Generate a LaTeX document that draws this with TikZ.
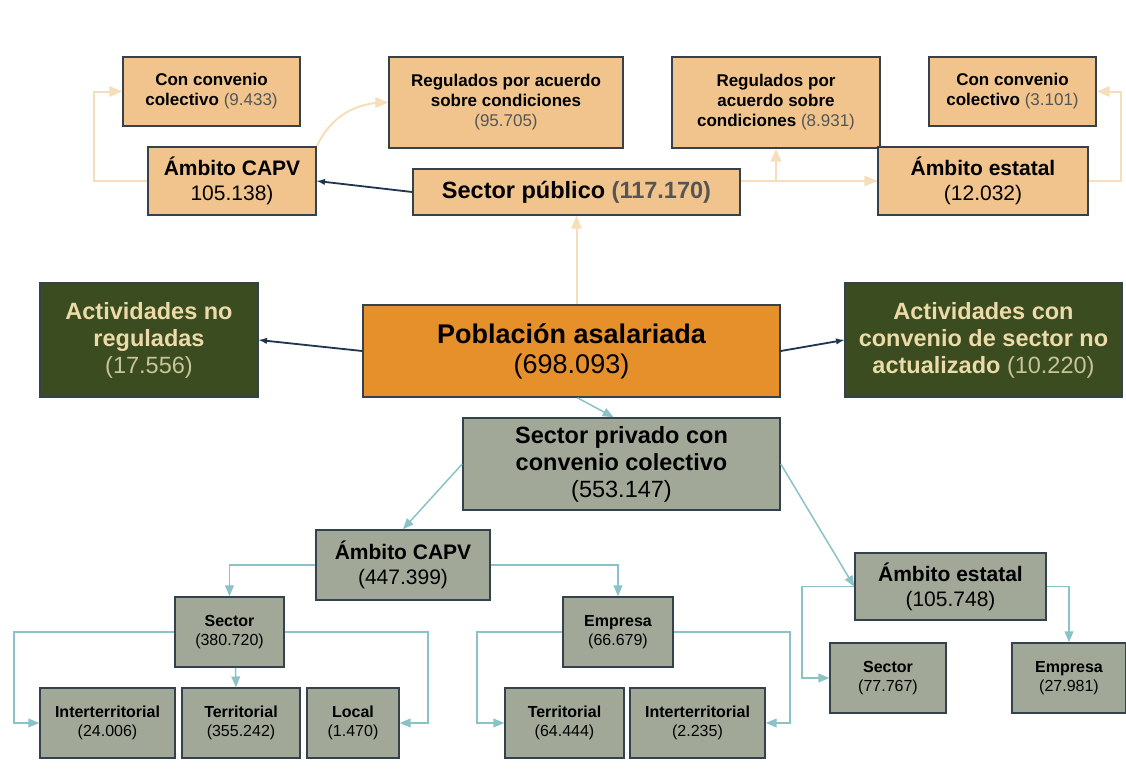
\documentclass[tikz,border=0pt]{standalone}
\usepackage{fontspec}
\setmainfont{Liberation Sans}
\usetikzlibrary{arrows}

\definecolor{boxtan}{RGB}{240,196,140}
\definecolor{boxorange}{RGB}{230,144,44}
\definecolor{boxgreen}{RGB}{58,76,32}
\definecolor{boxgray}{RGB}{161,168,151}
\definecolor{boxline}{RGB}{52,66,78}
\definecolor{greentext}{RGB}{236,218,168}
\definecolor{greennum}{RGB}{200,196,150}
\definecolor{numgray}{RGB}{85,85,85}
\definecolor{linktan}{RGB}{246,222,186}
\definecolor{linkteal}{RGB}{138,194,200}
\definecolor{linknavy}{RGB}{32,52,78}

\begin{document}
\begin{tikzpicture}[x=1pt, y=-1pt,
  box/.style={draw=boxline, line width=1.6pt, inner sep=0pt, align=center},
  pubbox/.style={box, fill=boxtan},
  privbox/.style={box, fill=boxgray},
  outbox/.style={box, fill=boxgreen, text=greentext},
  fsmall/.style={font=\fontsize{17}{20}\selectfont\bfseries},
  fbottom/.style={font=\fontsize{16}{19.5}\selectfont\bfseries},
  fmid/.style={font=\fontsize{21}{25}\selectfont\bfseries},
  fbig/.style={font=\fontsize{23.5}{27}\selectfont\bfseries},
  fhuge/.style={font=\fontsize{27}{30}\selectfont\bfseries},
  publink/.style={draw=linktan, line width=2pt, -triangle 45},
  privlink/.style={draw=linkteal, line width=1.5pt, -triangle 45},
  mainlink/.style={draw=linknavy, line width=1.8pt, -latex}]

\fill[white] (0,0) rectangle (1126,771);
\useasboundingbox (0,0) rectangle (1126,771);

% sector publico
\node[pubbox, fsmall, minimum width=177pt, minimum height=69pt] (conv1) at (211.5,91.5)
  {Con convenio\\colectivo {\mdseries\color{numgray}(9.433)}};
\node[pubbox, fsmall, minimum width=234pt, minimum height=91pt] (reg1) at (506,102.5)
  {Regulados por acuerdo\\sobre condiciones\\{\mdseries\color{numgray}(95.705)}};
\node[pubbox, fsmall, minimum width=208pt, minimum height=91pt] (reg2) at (776,102.5)
  {Regulados por\\acuerdo sobre\\condiciones {\mdseries\color{numgray}(8.931)}};
\node[pubbox, fsmall, minimum width=167pt, minimum height=69pt] (conv2) at (1012.5,91.5)
  {Con convenio\\colectivo {\mdseries\color{numgray}(3.101)}};
\node[pubbox, fmid, minimum width=168pt, minimum height=68pt] (capvpub) at (232,181)
  {Ámbito CAPV\\{\mdseries 105.138)}};
\node[pubbox, fbig, minimum width=327pt, minimum height=46pt] (pub) at (576.5,192)
  {Sector público {\color{numgray}(117.170)}};
\node[pubbox, fmid, minimum width=210pt, minimum height=68pt] (estpub) at (983,181)
  {Ámbito estatal\\{\mdseries (12.032)}};

% poblacion y actividades
\node[outbox, fbig, minimum width=218pt, minimum height=114pt] (noreg) at (149,340)
  {Actividades no\\reguladas\\{\mdseries\color{greennum}(17.556)}};
\node[box, fill=boxorange, fhuge, minimum width=417pt, minimum height=92pt] (pob) at (571.5,351)
  {Población asalariada\\{\mdseries (698.093)}};
\node[outbox, fbig, minimum width=277pt, minimum height=114pt] (noact) at (983.5,340)
  {Actividades con\\convenio de sector no\\actualizado {\mdseries\color{greennum}(10.220)}};

% sector privado
\node[privbox, fbig, minimum width=317pt, minimum height=92pt] (priv) at (621.5,464)
  {Sector privado con\\convenio colectivo\\{\mdseries (553.147)}};
\node[privbox, fmid, minimum width=174pt, minimum height=70pt] (capv) at (403,565)
  {Ámbito CAPV\\{\mdseries (447.399)}};
\node[privbox, fmid, minimum width=191pt, minimum height=67pt] (est) at (950.5,586.5)
  {Ámbito estatal\\{\mdseries (105.748)}};
\node[privbox, fbottom, minimum width=109pt, minimum height=70pt] (sec1) at (229.5,632)
  {Sector\\{\mdseries (380.720)}};
\node[privbox, fbottom, minimum width=110pt, minimum height=70pt] (emp1) at (618,632)
  {Empresa\\{\mdseries (66.679)}};
\node[privbox, fbottom, minimum width=135pt, minimum height=70pt] (inter1) at (107.5,723)
  {Interterritorial\\{\mdseries (24.006)}};
\node[privbox, fbottom, minimum width=118pt, minimum height=70pt] (terr1) at (241,723)
  {Territorial\\{\mdseries (355.242)}};
\node[privbox, fbottom, minimum width=92pt, minimum height=70pt] (local) at (353,723)
  {Local\\{\mdseries (1.470)}};
\node[privbox, fbottom, minimum width=119pt, minimum height=70pt] (terr2) at (564.5,723)
  {Territorial\\{\mdseries (64.444)}};
\node[privbox, fbottom, minimum width=135pt, minimum height=70pt] (inter2) at (697.5,723)
  {Interterritorial\\{\mdseries (2.235)}};
\node[privbox, fbottom, minimum width=116pt, minimum height=70pt] (sec2) at (888,678)
  {Sector\\{\mdseries (77.767)}};
\node[privbox, fbottom, minimum width=114pt, minimum height=70pt] (emp2) at (1069,678)
  {Empresa\\{\mdseries (27.981)}};

% enlaces
\draw[mainlink] (pub.west) -- (capvpub.east);
\draw[mainlink] (pob.west) -- (noreg.east);
\draw[mainlink] (pob.east) -- (noact.west);

\draw[publink] (pub.south |- pob.north) -- (pub.south);
\draw[publink] (capvpub.west) -- ++(-53,0) |- (conv1.west);
\draw[publink] (capvpub.north east) to[out=65,in=180] (reg1.west);
\draw[publink] (pub.east |- estpub.west) -- (estpub.west);
\draw[publink] (estpub.west) -| (reg2.south);
\draw[publink] (estpub.east) -- ++(32,0) |- (conv2.east);

\draw[privlink] ([xshift=6pt]pob.south) -- ([xshift=-8pt]priv.north);
\draw[privlink] (priv.west) -- (capv.north);
\draw[privlink] (priv.east) -- (est.west);
\draw[privlink] (capv.west) -| (sec1.north);
\draw[privlink] (capv.east) -| (emp1.north);
\draw[privlink] (sec1.west) -- ++(-160,0) |- (inter1.west);
\draw[privlink] ([xshift=6pt]sec1.south) -- ([xshift=-5pt]terr1.north);
\draw[privlink] (sec1.east) -- ++(143,0) |- (local.east);
\draw[privlink] (emp1.west) -- ++(-85,0) |- (terr2.west);
\draw[privlink] (emp1.east) -- ++(116,0) |- (inter2.east);
\draw[privlink] (est.west) -- ++(-52,0) |- (sec2.west);
\draw[privlink] (est.east) -| (emp2.north);
\end{tikzpicture}
\end{document}
